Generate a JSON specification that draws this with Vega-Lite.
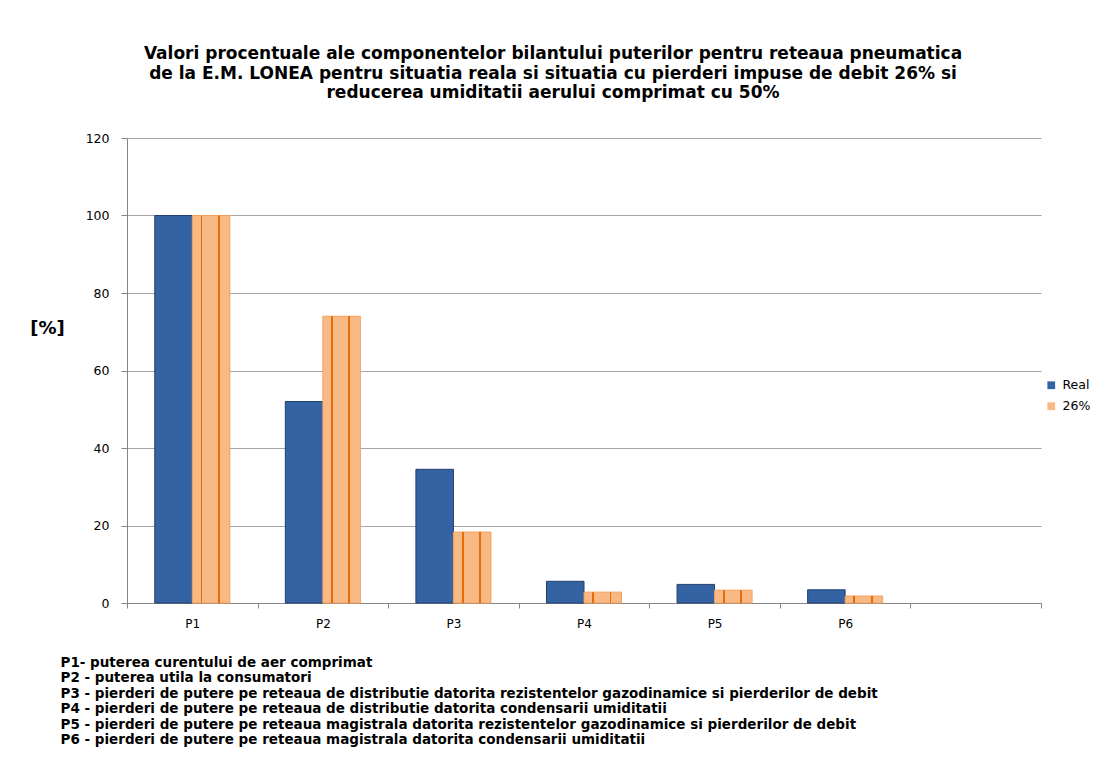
{
  "$schema": "https://vega.github.io/schema/vega-lite/v6.json",
  "autosize": "none",
  "width": 914,
  "height": 465,
  "padding": {"left": 127, "top": 138, "right": 66, "bottom": 175},
  "background": "white",
  "title": {
    "text": ["Valori procentuale ale componentelor bilantului puterilor pentru reteaua pneumatica", "de la E.M. LONEA pentru situatia reala si situatia cu pierderi impuse de debit 26% si", "reducerea umiditatii aerului comprimat cu 50%"],
    "font": "DejaVu Sans",
    "fontSize": 17,
    "fontWeight": "bold",
    "lineHeight": 19.5,
    "anchor": "middle",
    "frame": "group",
    "dx": -31,
    "offset": 30,
    "color": "black"
  },
  "data": {
    "values": [
      {"p": "P1", "serie": "Real", "v": 100},
      {"p": "P1", "serie": "26%", "v": 100},
      {"p": "P2", "serie": "Real", "v": 52},
      {"p": "P2", "serie": "26%", "v": 74},
      {"p": "P3", "serie": "Real", "v": 34.5},
      {"p": "P3", "serie": "26%", "v": 18.3},
      {"p": "P4", "serie": "Real", "v": 5.6},
      {"p": "P4", "serie": "26%", "v": 2.8},
      {"p": "P5", "serie": "Real", "v": 4.8},
      {"p": "P5", "serie": "26%", "v": 3.3},
      {"p": "P6", "serie": "Real", "v": 3.4},
      {"p": "P6", "serie": "26%", "v": 1.8}
    ]
  },
  "encoding": {
    "x": {
      "field": "p",
      "type": "nominal",
      "scale": {"domain": ["P1", "P2", "P3", "P4", "P5", "P6", " "], "paddingInner": 0, "paddingOuter": 0},
      "axis": {
        "labelAngle": 0,
        "labelFont": "DejaVu Sans",
        "labelFontSize": 12,
        "labelColor": "black",
        "labelPadding": 10,
        "tickBand": "extent",
        "tickSize": 5,
        "tickColor": "#868686",
        "domainColor": "#868686",
        "grid": false,
        "title": ["P1- puterea  curentului de aer comprimat", "P2 - puterea  utila la consumatori", "P3 - pierderi de putere pe reteaua  de distributie datorita rezistentelor gazodinamice si pierderilor de debit", "P4 -  pierderi de putere pe reteaua  de distributie datorita condensarii umiditatii", "P5 - pierderi de putere pe reteaua magistrala datorita rezistentelor gazodinamice si pierderilor de debit", "P6 -  pierderi de putere pe reteaua  magistrala datorita condensarii umiditatii"],
        "titleFont": "DejaVu Sans",
        "titleFontSize": 13.5,
        "titleFontWeight": "bold",
        "titleLineHeight": 15.5,
        "titleColor": "black",
        "titleAnchor": "start",
        "titleAlign": "left",
        "titleBaseline": "top",
        "titleX": -67,
        "titleY": 52
      }
    },
    "xOffset": {"field": "serie", "type": "nominal", "scale": {"domain": ["Real", "26%"], "paddingInner": 0, "paddingOuter": 0.74}},
    "y": {
      "field": "v",
      "type": "quantitative",
      "scale": {"domain": [0, 120], "nice": false},
      "axis": {
        "values": [0, 20, 40, 60, 80, 100, 120],
        "labelFont": "DejaVu Sans",
        "labelFontSize": 12.5,
        "labelColor": "black",
        "labelPadding": 12,
        "tickSize": 6,
        "tickColor": "#868686",
        "domainColor": "#868686",
        "gridColor": "#a6a6a6",
        "gridWidth": 1,
        "title": "[%]",
        "titleFont": "DejaVu Sans",
        "titleFontSize": 18,
        "titleFontWeight": "bold",
        "titleColor": "black",
        "titleAngle": 0,
        "titleAlign": "center",
        "titleBaseline": "middle",
        "titleX": -80,
        "titleY": 190
      }
    }
  },
  "layer": [
    {
      "mark": {"type": "bar", "strokeWidth": 1},
      "encoding": {
        "color": {
          "field": "serie",
          "type": "nominal",
          "scale": {"domain": ["Real", "26%"], "range": ["#3463a3", "#f9b985"]},
          "legend": {
            "title": null,
            "orient": "none",
            "legendX": 918,
            "legendY": 241,
            "symbolType": "square",
            "symbolSize": 60,
            "symbolStrokeWidth": 0,
            "labelFont": "DejaVu Sans",
            "labelFontSize": 12.5,
            "labelColor": "black",
            "rowPadding": 8,
            "labelOffset": 5
          }
        },
        "stroke": {
          "field": "serie",
          "type": "nominal",
          "scale": {"domain": ["Real", "26%"], "range": ["#1f3f6e", "#f4a05a"]},
          "legend": null
        }
      }
    },
    {
      "transform": [{"filter": "datum.serie === '26%'"}],
      "mark": {
        "type": "bar",
        "fill": {
          "gradient": "linear",
          "x1": 0, "y1": 0, "x2": 1, "y2": 0,
          "stops": [
            {"offset": 0, "color": "rgba(228,108,10,0)"},
            {"offset": 0.22, "color": "rgba(228,108,10,0)"},
            {"offset": 0.22, "color": "rgba(228,108,10,1)"},
            {"offset": 0.27, "color": "rgba(228,108,10,1)"},
            {"offset": 0.27, "color": "rgba(228,108,10,0)"},
            {"offset": 0.68, "color": "rgba(228,108,10,0)"},
            {"offset": 0.68, "color": "rgba(228,108,10,1)"},
            {"offset": 0.73, "color": "rgba(228,108,10,1)"},
            {"offset": 0.73, "color": "rgba(228,108,10,0)"},
            {"offset": 1, "color": "rgba(228,108,10,0)"}
          ]
        }
      }
    }
  ],
  "config": {"view": {"stroke": null}}
}
